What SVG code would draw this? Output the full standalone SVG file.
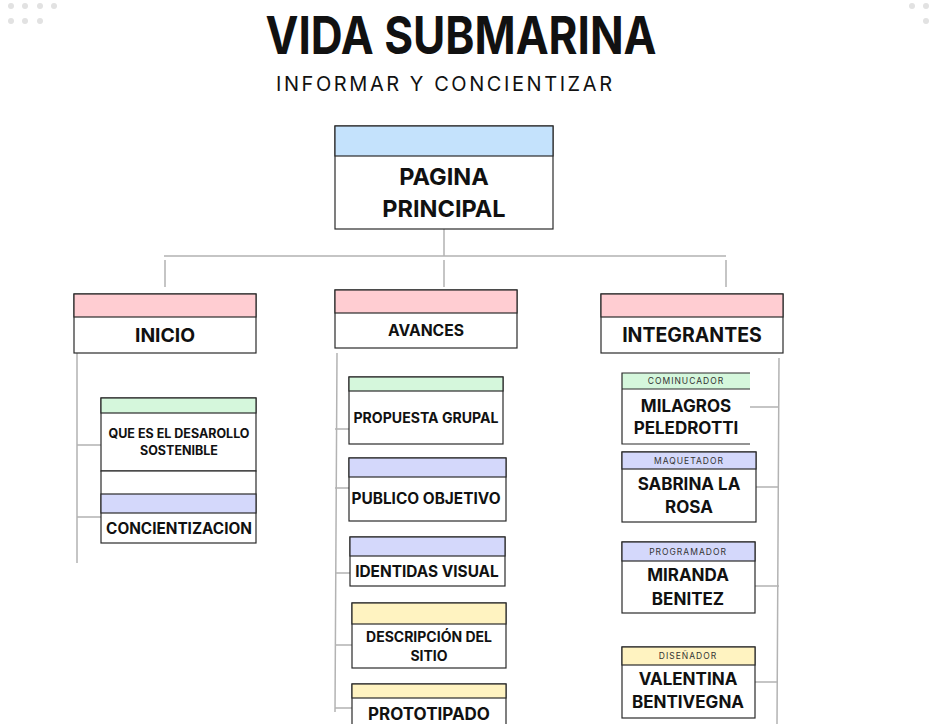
<svg xmlns="http://www.w3.org/2000/svg" width="930" height="724" viewBox="0 0 930 724">
<style>
text{font-family:Inter,"Liberation Sans",Arial,sans-serif;fill:#111;text-anchor:middle}
.b{font-weight:700}
.box{fill:#fff;stroke:#2a2a2a;stroke-width:1.2}
.hd{stroke:#2a2a2a;stroke-width:1.2}
.pink{fill:#ffcdd2}.green{fill:#d5f7dc}.lav{fill:#d4d8fb}.yel{fill:#fff3c1}.sky{fill:#c4e2fc}
.con{stroke:#b3b3b3;stroke-width:1.5;fill:none}
.dot{fill:#e2e2e2}
.role{font-size:8.5px;letter-spacing:1px;fill:#333}
</style>
<rect width="930" height="724" fill="#fff"/>
<g id="dots">
<circle class="dot" cx="11" cy="6" r="3"/><circle class="dot" cx="25" cy="6" r="3"/><circle class="dot" cx="40" cy="6" r="3"/><circle class="dot" cx="54" cy="6" r="3"/>
<circle class="dot" cx="11" cy="21" r="3"/><circle class="dot" cx="25" cy="21" r="3"/><circle class="dot" cx="40" cy="21" r="3"/>
<circle class="dot" cx="912" cy="6" r="3"/><circle class="dot" cx="926" cy="6" r="3"/><circle class="dot" cx="926" cy="21" r="3"/>
</g>
<g id="title">
<text class="b" x="461" y="54" font-size="52" textLength="391" lengthAdjust="spacingAndGlyphs">VIDA SUBMARINA</text>
<text x="444" y="91" font-size="20" textLength="336" lengthAdjust="spacing">INFORMAR Y CONCIENTIZAR</text>
</g>
<g id="connectors">
<path class="con" d="M444 229V256M164 256H726M165 260V287M444 260V287M726 260V287"/>
<path class="con" d="M77 353V563M77 445H101M77 517H115"/>
<path class="con" d="M337 353L335 712M335 429H349M335 488H349M336 573H350M336 645H352M335 708H352"/>
<path class="con" d="M779 358L777 724M750 407H779M756 487H779M755 586H779M755 682H778"/>
</g>
<g id="pagina-principal">
<rect class="box" x="335" y="126" width="218" height="103"/>
<rect class="sky hd" x="335" y="126" width="218" height="30"/>
<text class="b" x="444" y="185" font-size="23.5">PAGINA</text>
<text class="b" x="444" y="217" font-size="23.5">PRINCIPAL</text>
</g>
<g id="inicio">
<rect class="box" x="74" y="294" width="182" height="59"/>
<rect class="pink hd" x="74" y="294" width="182" height="23"/>
<text class="b" x="165" y="342" font-size="19.3">INICIO</text>
</g>
<g id="avances">
<rect class="box" x="335" y="290" width="182" height="58"/>
<rect class="pink hd" x="335" y="290" width="182" height="23"/>
<text class="b" x="426" y="336" font-size="15.7">AVANCES</text>
</g>
<g id="integrantes">
<rect class="box" x="601" y="294" width="182" height="59"/>
<rect class="pink hd" x="601" y="294" width="182" height="23"/>
<text class="b" x="692" y="342" font-size="19.5">INTEGRANTES</text>
</g>
<g id="desarrollo-sostenible">
<rect class="box" x="101" y="398" width="155" height="73"/>
<rect class="green hd" x="101" y="398" width="155" height="15"/>
<text class="b" x="179" y="438" font-size="12.5">QUE ES EL DESAROLLO</text>
<text class="b" x="179" y="455" font-size="12.5">SOSTENIBLE</text>
</g>
<g id="concientizacion">
<rect class="box" x="101" y="471" width="155" height="72"/>
<rect class="lav hd" x="101" y="494" width="155" height="19"/>
<text class="b" x="179" y="534" font-size="15.3">CONCIENTIZACION</text>
</g>
<g id="propuesta-grupal">
<rect class="box" x="349" y="377" width="154" height="67"/>
<rect class="green hd" x="349" y="377" width="154" height="14"/>
<text class="b" x="426" y="423" font-size="14.1">PROPUESTA GRUPAL</text>
</g>
<g id="publico-objetivo">
<rect class="box" x="349" y="458" width="157" height="63"/>
<rect class="lav hd" x="349" y="458" width="157" height="19"/>
<text class="b" x="426" y="504" font-size="15.4">PUBLICO OBJETIVO</text>
</g>
<g id="identidas-visual">
<rect class="box" x="350" y="537" width="155" height="49"/>
<rect class="lav hd" x="350" y="537" width="155" height="19"/>
<text class="b" x="427" y="577" font-size="15.4">IDENTIDAS VISUAL</text>
</g>
<g id="descripcion-sitio">
<rect class="box" x="352" y="603" width="154" height="65"/>
<rect class="yel hd" x="352" y="603" width="154" height="21"/>
<text class="b" x="429" y="642" font-size="14">DESCRIPCIÓN DEL</text>
<text class="b" x="429" y="661" font-size="14">SITIO</text>
</g>
<g id="prototipado">
<rect class="box" x="352" y="684" width="154" height="50"/>
<rect class="yel hd" x="352" y="684" width="154" height="14"/>
<text class="b" x="429" y="720" font-size="17">PROTOTIPADO</text>
</g>
<g id="milagros">
<rect x="622" y="373" width="128" height="71" fill="#fff"/>
<rect class="green" x="622" y="373" width="128" height="16"/>
<path class="hd" fill="none" d="M750 373H622V444H750M622 389H750"/>
<text class="role" x="686" y="384">COMINUCADOR</text>
<text class="b" x="686" y="412" font-size="17">MILAGROS</text>
<text class="b" x="686" y="434" font-size="17">PELEDROTTI</text>
</g>
<g id="sabrina">
<rect class="box" x="622" y="452" width="134" height="70"/>
<rect class="lav hd" x="622" y="452" width="134" height="17"/>
<text class="role" x="689" y="464">MAQUETADOR</text>
<text class="b" x="689" y="490" font-size="17">SABRINA LA</text>
<text class="b" x="689" y="513" font-size="17">ROSA</text>
</g>
<g id="miranda">
<rect class="box" x="622" y="542" width="133" height="71"/>
<rect class="lav hd" x="622" y="542" width="133" height="19"/>
<text class="role" x="688" y="555">PROGRAMADOR</text>
<text class="b" x="688" y="581" font-size="17">MIRANDA</text>
<text class="b" x="688" y="605" font-size="17">BENITEZ</text>
</g>
<g id="valentina">
<rect class="box" x="622" y="647" width="133" height="71"/>
<rect class="yel hd" x="622" y="647" width="133" height="18"/>
<text class="role" x="688" y="659">DISEÑADOR</text>
<text class="b" x="688" y="685" font-size="17">VALENTINA</text>
<text class="b" x="688" y="708" font-size="17">BENTIVEGNA</text>
</g>
</svg>
